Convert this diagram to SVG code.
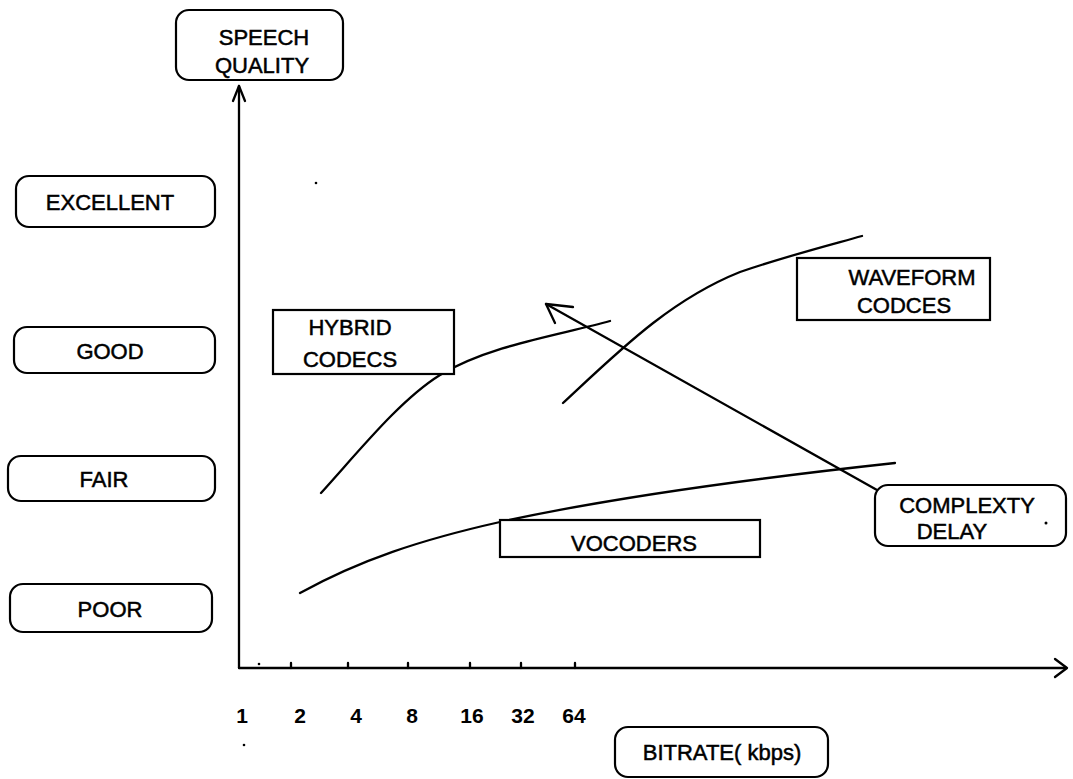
<svg xmlns="http://www.w3.org/2000/svg" width="1073" height="779" viewBox="0 0 1073 779">
  <style>
    .box { fill: #fff; stroke: #000; stroke-width: 2.2; }
    .line { fill: none; stroke: #000; stroke-width: 2.3; stroke-linecap: round; stroke-linejoin: round; }
    .lbl { font-family: "Liberation Sans", Arial, sans-serif; font-size: 22px; fill: #000; stroke: #000; stroke-width: 0.5; text-anchor: middle; }
    .num { font-family: "Liberation Sans", Arial, sans-serif; font-size: 21px; font-weight: bold; fill: #000; text-anchor: middle; }
  </style>
  <rect width="1073" height="779" fill="#fff"/>

  <!-- axes, curves and the complexity arrow -->
  <g id="connectors">
    <!-- quality axis -->
    <path class="line" d="M239,668 L239,86"/>
    <path class="line" d="M233,101 L239,86 L245,101"/>
    <!-- bitrate axis -->
    <path class="line" d="M239,668 L1066,668"/>
    <path class="line" d="M1055,659 L1067,668 L1055,677"/>
    <!-- ticks -->
    <path class="line" stroke-width="1.5" d="M291,663 V668 M348,663 V668 M408,663 V668 M470,663 V668 M521,663 V668 M575,663 V668"/>
    <!-- vocoders -->
    <path class="line" d="M300,593 C360,560 420,540 500,522 C600,500 720,482 895,463"/>
    <!-- hybrid codecs -->
    <path class="line" d="M321,493 C360,450 400,400 440,375 C490,345 560,335 610,321"/>
    <!-- waveform codecs -->
    <path class="line" d="M563,403 C620,350 670,300 740,272 C790,255 830,245 862,236"/>
    <!-- complexity / delay arrow -->
    <path class="line" d="M877,490 L546,304"/>
    <path class="line" d="M573,307 L546,304 L555,323"/>
  </g>

  <g id="speech-quality">
    <rect class="box" x="176" y="10" width="167" height="70" rx="13"/>
    <text class="lbl" x="264" y="45">SPEECH</text>
    <text class="lbl" x="262" y="73">QUALITY</text>
  </g>

  <g id="excellent">
    <rect class="box" x="16" y="176" width="199" height="51" rx="13"/>
    <text class="lbl" x="110" y="210">EXCELLENT</text>
  </g>
  <g id="good">
    <rect class="box" x="14" y="327" width="201" height="46" rx="13"/>
    <text class="lbl" x="110" y="359">GOOD</text>
  </g>
  <g id="fair">
    <rect class="box" x="8" y="456" width="207" height="45" rx="13"/>
    <text class="lbl" x="104" y="487">FAIR</text>
  </g>
  <g id="poor">
    <rect class="box" x="10" y="584" width="202" height="48" rx="13"/>
    <text class="lbl" x="110" y="617">POOR</text>
  </g>

  <g id="hybrid-codecs">
    <rect class="box" x="273" y="310" width="181" height="64"/>
    <text class="lbl" x="350" y="335">HYBRID</text>
    <text class="lbl" x="350" y="367">CODECS</text>
  </g>

  <g id="waveform-codecs">
    <rect class="box" x="797" y="258" width="193" height="62"/>
    <text class="lbl" x="912" y="285">WAVEFORM</text>
    <text class="lbl" x="904" y="313">CODCES</text>
  </g>

  <g id="vocoders">
    <rect class="box" x="500" y="520" width="260" height="37"/>
    <text class="lbl" x="634" y="551">VOCODERS</text>
  </g>

  <g id="complexity-delay">
    <rect class="box" x="875" y="485" width="191" height="61" rx="13"/>
    <text class="lbl" x="967" y="513">COMPLEXTY</text>
    <text class="lbl" x="952" y="539">DELAY</text>
  </g>

  <g id="bitrate">
    <rect class="box" x="615" y="727" width="213" height="50" rx="13"/>
    <text class="lbl" x="722" y="760">BITRATE( kbps)</text>
  </g>

  <!-- bitrate scale values -->
  <g id="scale-values">
    <text class="num" x="242" y="723">1</text>
    <text class="num" x="300" y="723">2</text>
    <text class="num" x="356" y="723">4</text>
    <text class="num" x="412" y="723">8</text>
    <text class="num" x="472" y="723">16</text>
    <text class="num" x="523" y="723">32</text>
    <text class="num" x="574" y="723">64</text>
  </g>

  <!-- stray specks -->
  <g fill="#000">
    <circle cx="316" cy="183" r="1.3"/>
    <circle cx="259" cy="664" r="1.3"/>
    <circle cx="244" cy="745" r="1.3"/>
    <circle cx="1046" cy="523" r="1.5"/>
  </g>
</svg>
